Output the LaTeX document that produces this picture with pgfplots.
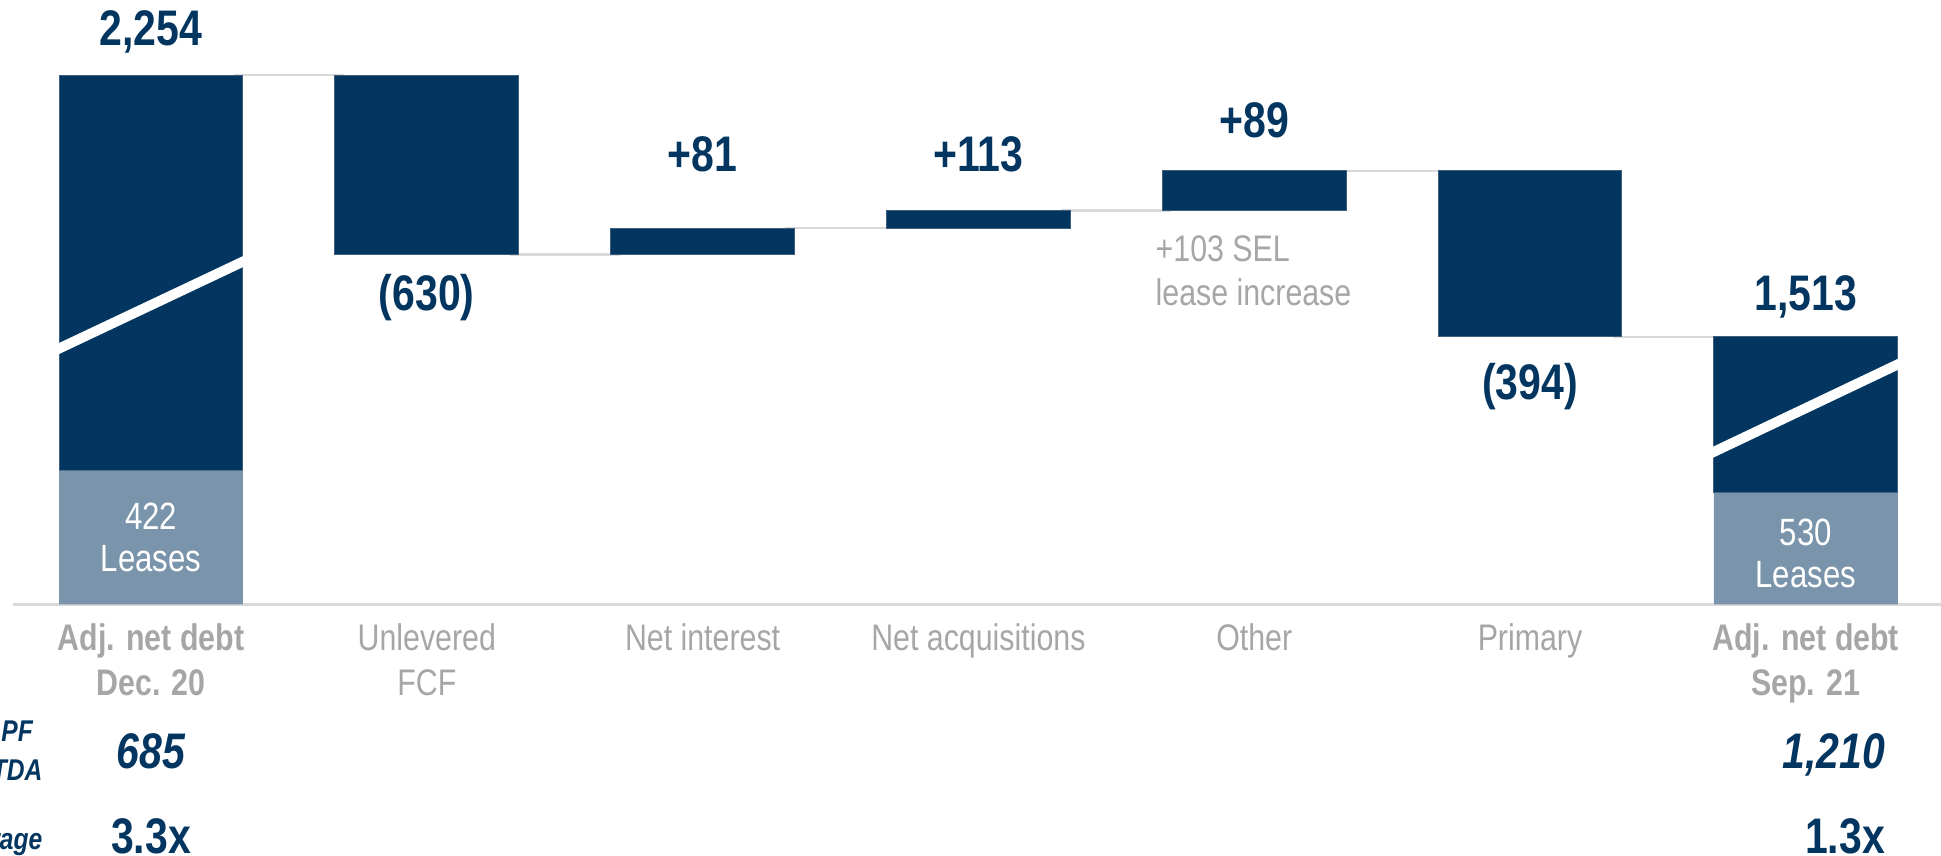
\documentclass[border=0pt]{standalone}
\usepackage{pgfplots}
\pgfplotsset{compat=1.18}
\usepackage{pgfplotstable}
\usepackage{fontspec}
\setmainfont{Liberation Sans}[FakeStretch=0.82]

\definecolor{navy}{RGB}{2,54,96}
\definecolor{leasec}{RGB}{122,149,171}
\definecolor{gtxt}{RGB}{166,166,166}
\definecolor{conn}{RGB}{217,217,217}
\definecolor{edge}{RGB}{60,95,128}

% Waterfall levels (drawn scale of the original chart, not proportional to labels)
\pgfplotstableread{
x base   lease  debt
0 0      570    1684
1 1491   0      763
2 1491   0      111.7
3 1602.7 0      74.5
4 1677.2 0      169.6
5 1140   0      706.8
6 0      474.6  665.4
}\bars

\pgfplotsset{wf/.style={
  scale only axis, width=485.25pt, height=214pt,
  xmin=-0.5475, xmax=6.4902, ymin=-1071.8, ymax=2574.7,
  hide axis, clip=false, at={(0,0)}, anchor=south west}}

\newcommand\vlab{\fontsize{12.5}{15}\selectfont\bfseries}
\newcommand\clab{\fontsize{9.25}{11}\selectfont}
\newcommand\llab{\fontsize{9.5}{11}\selectfont}
\newcommand\slab{\fontsize{7.5}{9}\selectfont\bfseries\itshape}

\begin{document}
\begin{tikzpicture}
% connectors and baseline (behind bars)
\begin{axis}[wf]
\addplot[conn, line width=0.7pt] coordinates {(-0.5,0) (6.4902,0)};
\addplot[conn, line width=0.6pt] coordinates {(0.3,2254) (0.7,2254)};
\addplot[conn, line width=0.6pt] coordinates {(1.3,1491) (1.7,1491)};
\addplot[conn, line width=0.6pt] coordinates {(2.3,1602.7) (2.7,1602.7)};
\addplot[conn, line width=0.6pt] coordinates {(3.3,1677.2) (3.7,1677.2)};
\addplot[conn, line width=0.6pt] coordinates {(4.3,1846.8) (4.7,1846.8)};
\addplot[conn, line width=0.6pt] coordinates {(5.3,1140) (5.7,1140)};
\coordinate (SW) at (rel axis cs:0,0);
\coordinate (NE) at (rel axis cs:1,1);
\end{axis}
% bars
\begin{axis}[wf, ybar stacked, bar width=0.667]
\addplot[draw=none, fill=none] table[x=x, y=base] {\bars};
\addplot[draw=none, fill=leasec] table[x=x, y=lease] {\bars};
\addplot[draw=edge, line width=0.25pt, fill=navy] table[x=x, y=debt] {\bars};
\end{axis}
% break marks and labels
\begin{axis}[wf]
\addplot[white, line width=2.5pt] coordinates {(-0.35,1080.6) (0.35,1469.4)};
\addplot[white, line width=2.5pt] coordinates {(5.65,640.5) (6.35,1031.5)};

\begin{scope}[every node/.style={anchor=base, inner sep=0pt, text=navy, font=\vlab}]
\node at (axis cs:0,2379) {2,254};
\node at (axis cs:1,1250) {(630)};
\node at (axis cs:2,1842) {+81};
\node at (axis cs:3,1842) {+113};
\node at (axis cs:4,1987) {+89};
\node at (axis cs:5,871) {(394)};
\node at (axis cs:6,1250) {1,513};
\end{scope}

\begin{scope}[every node/.style={anchor=base west, inner sep=0pt, text=gtxt, font=\clab}]
\node at (axis cs:3.64,1460) {+103 SEL};
\node at (axis cs:3.64,1272) {lease increase};
\end{scope}

\begin{scope}[every node/.style={anchor=base, inner sep=0pt, text=white, font=\llab}]
\node at (axis cs:0,319) {422};
\node at (axis cs:0,142) {Leases};
\node at (axis cs:6,251) {530};
\node at (axis cs:6,74) {Leases};
\end{scope}

\begin{scope}[every node/.style={anchor=base, inner sep=0pt, text=gtxt, font=\clab}]
\node[font=\clab\bfseries] at (axis cs:0,-198.5) {Adj. net debt};
\node[font=\clab\bfseries] at (axis cs:0,-388) {Dec. 20};
\node at (axis cs:1,-198.5) {Unlevered};
\node at (axis cs:1,-388) {FCF};
\node at (axis cs:2,-198.5) {Net interest};
\node at (axis cs:3,-198.5) {Net acquisitions};
\node at (axis cs:4,-198.5) {Other};
\node at (axis cs:5,-198.5) {Primary};
\node[font=\clab\bfseries] at (axis cs:6,-198.5) {Adj. net debt};
\node[font=\clab\bfseries] at (axis cs:6,-388) {Sep. 21};
\end{scope}

\begin{scope}[every node/.style={inner sep=0pt, text=navy, font=\vlab}]
\node[anchor=base, font=\vlab\itshape] at (axis cs:0,-699.5) {685};
\node[anchor=base east, font=\vlab\itshape] at (axis cs:6.29,-699.5) {1,210};
\node[anchor=base] at (axis cs:0,-1062) {3.3x};
\node[anchor=base east] at (axis cs:6.29,-1062) {1.3x};
\end{scope}

\begin{scope}[every node/.style={inner sep=0pt, text=navy, font=\slab, anchor=base east}]
\node at (axis cs:-0.4253,-583.2) {LTM PF};
\node at (axis cs:-0.3909,-749.8) {EBITDA};
\node at (axis cs:-0.3909,-1046) {Leverage};
\end{scope}
\end{axis}
\pgfresetboundingbox
\useasboundingbox (SW) rectangle (NE);
\end{tikzpicture}
\end{document}
